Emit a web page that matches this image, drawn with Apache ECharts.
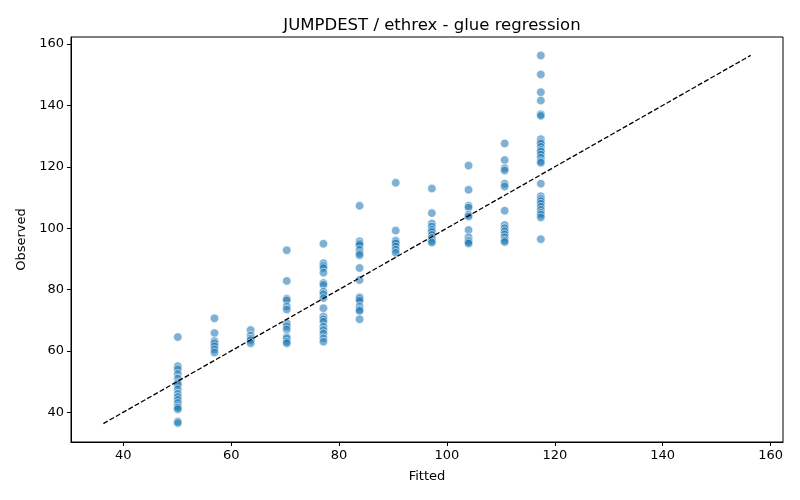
<!DOCTYPE html>
<html>
<head>
<meta charset="utf-8">
<script src="https://cdn.jsdelivr.net/npm/echarts@6/dist/echarts.min.js"></script>
<style>
html, body { margin: 0; padding: 0; background: #fff; }
#chart { width: 800px; height: 500px; }
</style>
</head>
<body>
<div id="chart"></div>
<script>
// fitted value of each column
const fitted = [50.1, 56.9, 63.6, 70.3, 77.1, 83.8, 90.5, 97.2, 104.0, 110.7, 117.4];
// observed values per fitted column
const observed50 = [64.5, 55, 54, 52.5, 51, 49.5, 49, 47.5, 46, 45, 44, 43, 42, 41.5, 41, 37, 36.5];
const observed57 = [70.6, 65.8, 63.2, 62.5, 61.5, 60.5, 59.5];
const observed64 = [66.8, 65, 64, 63.5, 62.5];
const observed70 = [92.8, 82.8, 77, 76.5, 74.5, 73.5, 69, 68, 67, 64.5, 64, 63, 62.5];
const observed77 = [94.9, 88.6, 87.7, 87, 85.5, 82.1, 81.5, 79.3, 78.5, 77.2, 73.9, 71.2, 70.3, 69.5, 67.9, 66.8, 65.7, 64.1, 63];
const observed84 = [107.3, 95.7, 95, 94.5, 93, 91.8, 91.2, 87, 83.1, 77.5, 77, 76.3, 74.5, 73.5, 73, 70.3];
const observed90 = [114.8, 99.2, 96, 95.5, 95, 94, 93, 92];
const observed97 = [112.9, 104.9, 101.5, 100.5, 99.5, 98.8, 97.8, 96.8, 95.8, 95.3];
const observed104 = [120.4, 112.5, 107.3, 106.7, 104.4, 103.8, 99.4, 97, 96, 95.5, 95];
const observed111 = [127.6, 122.2, 119.5, 118.8, 114.5, 113.6, 105.7, 101, 100, 99, 98, 97, 96, 95.5];
const observed117 = [156.3, 150.1, 144.3, 141.6, 137.1, 136.6, 129, 128, 127.5, 126.5, 125.5, 125, 124, 123, 121.8, 121.3,
	114.5, 110.4, 109.5, 108.8, 108, 107, 106, 105, 104.4, 103.5, 96.4];
const observedCols = [observed50, observed57, observed64, observed70, observed77, observed84,
	observed90, observed97, observed104, observed111, observed117];
// identity line ends
const lineEnds = [36.3, 156.3];
const tickValues = [40, 60, 80, 100, 120, 140, 160];
const axisMin = 30.3;
const axisMax = 162.3;

const points = [];
fitted.forEach((fx, i) => {
	observedCols[i].forEach((oy) => points.push([fx, oy]));
});

const chart = echarts.init(document.getElementById('chart'), null, { renderer: 'canvas' });

const font = 'DejaVu Sans';
const axisCommon = {
	type: 'value',
	min: axisMin,
	max: axisMax,
	splitLine: { show: false },
	axisLine: { show: true, onZero: false, lineStyle: { color: '#000', width: 1 } },
	axisTick: { show: true, length: 4, customValues: tickValues, lineStyle: { color: '#000' } },
	axisLabel: { customValues: tickValues, color: '#000', fontFamily: font, fontSize: 13, margin: 7 },
	nameLocation: 'middle',
	nameTextStyle: { color: '#000', fontFamily: font, fontSize: 13 }
};

const option = {
	animation: false,
	backgroundColor: '#fff',
	title: {
		text: 'JUMPDEST / ethrex - glue regression',
		left: 427,
		top: 12,
		textAlign: 'center',
		textStyle: { fontFamily: font, fontSize: 16.5, fontWeight: 'normal', color: '#000' }
	},
	grid: { left: 71, right: 17, top: 37, bottom: 58, show: true, borderColor: '#000', borderWidth: 1 },
	xAxis: Object.assign({}, axisCommon, { name: 'Fitted', nameGap: 28 }),
	yAxis: Object.assign({}, axisCommon, { name: 'Observed', nameGap: 38 }),
	series: [
		{
			type: 'scatter',
			data: points,
			symbolSize: 8.5,
			itemStyle: {
				color: 'rgba(31,119,180,0.72)',
				borderColor: '#fff',
				borderWidth: 0.7
			},
			z: 2
		},
		{
			type: 'line',
			data: [[lineEnds[0], lineEnds[0]], [lineEnds[1], lineEnds[1]]],
			symbol: 'none',
			lineStyle: { color: '#000', width: 1.3, type: [5, 2.2] },
			z: 3
		}
	]
};

option && chart.setOption(option);
</script>
</body>
</html>
